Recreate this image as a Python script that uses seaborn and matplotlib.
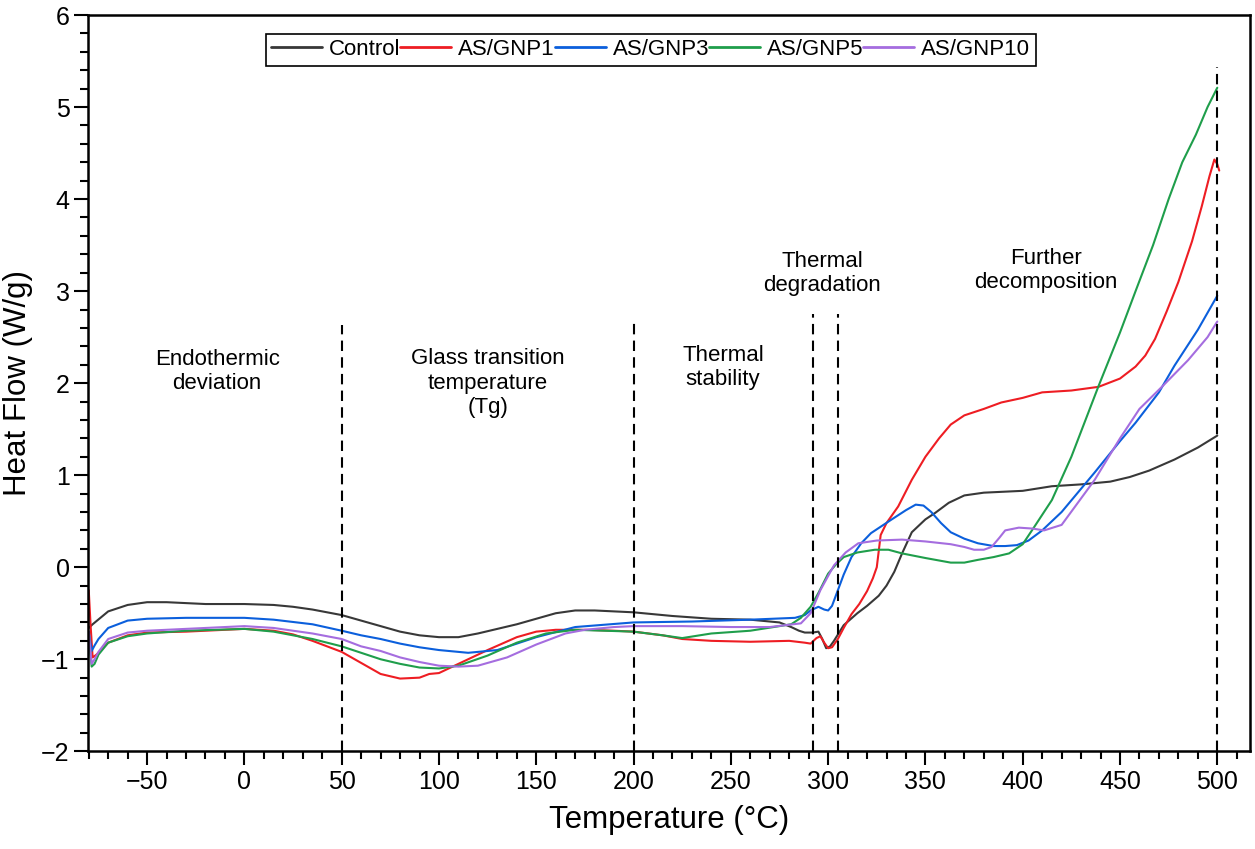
from matplotlib import pyplot as plt
from matplotlib.ticker import MultipleLocator
import pandas as pd
import numpy as np
import seaborn as sns

# DSC curves
control_x = [-80, -78, -70, -60, -50, -40, -20, 0, 15, 25, 35, 50, 60, 70, 80, 90, 100, 110, 120, 140, 160,
             170, 180, 200, 220, 240, 260, 275, 281, 285, 288, 292, 295, 297, 299, 301, 303, 308, 315, 320,
             326, 330, 334, 338, 343, 350, 355, 362, 370, 380, 390, 400, 415, 430, 445, 455, 465, 478, 490, 500]
control_y = [-0.66, -0.62, -0.48, -0.41, -0.38, -0.38, -0.40, -0.40, -0.41, -0.43, -0.46, -0.52, -0.58, -0.64,
             -0.70, -0.74, -0.76, -0.76, -0.72, -0.62, -0.50, -0.47, -0.47, -0.49, -0.53, -0.56, -0.57, -0.60,
             -0.65, -0.69, -0.71, -0.71, -0.70, -0.78, -0.88, -0.86, -0.80, -0.63, -0.50, -0.42, -0.31, -0.20,
             -0.05, 0.15, 0.38, 0.52, 0.59, 0.70, 0.78, 0.81, 0.82, 0.83, 0.88, 0.90, 0.93, 0.98, 1.05, 1.17,
             1.30, 1.43]

gnp1_x = [-80, -79, -78, -76, -70, -60, -50, -30, 0, 15, 25, 35, 50, 60, 70, 80, 90, 95, 100, 110, 125, 140,
          150, 160, 175, 190, 200, 215, 225, 240, 260, 280, 288, 291, 294, 296, 298, 300, 302, 305, 308, 312,
          316, 320, 323, 325, 327, 330, 336, 343, 350, 357, 363, 370, 380, 389, 400, 410, 425, 439, 450, 458,
          463, 468, 474, 480, 487, 492, 496, 498.5, 500, 501]
gnp1_y = [-0.25, -0.65, -0.98, -0.95, -0.82, -0.74, -0.71, -0.70, -0.67, -0.69, -0.73, -0.80, -0.92, -1.04,
          -1.16, -1.21, -1.20, -1.16, -1.15, -1.05, -0.90, -0.76, -0.70, -0.68, -0.68, -0.69, -0.70, -0.74,
          -0.78, -0.80, -0.81, -0.80, -0.82, -0.83, -0.77, -0.75, -0.82, -0.88, -0.87, -0.78, -0.66, -0.51,
          -0.40, -0.26, -0.12, 0.0, 0.35, 0.48, 0.66, 0.95, 1.20, 1.40, 1.55, 1.65, 1.72, 1.79, 1.84, 1.90,
          1.92, 1.96, 2.05, 2.18, 2.30, 2.48, 2.78, 3.10, 3.54, 3.92, 4.25, 4.43, 4.38, 4.31]

gnp3_x = [-80, -78.5, -77, -75, -70, -60, -50, -30, 0, 15, 35, 50, 60, 70, 80, 90, 100, 115, 130, 150, 170,
          200, 230, 260, 283, 288, 291, 295, 298, 300, 302, 305, 308, 312, 317, 322, 332, 340, 345, 349, 353,
          358, 363, 370, 377, 385, 391, 397, 403, 410, 420, 437, 450, 458, 470, 478, 490, 500]
gnp3_y = [-0.70, -0.91, -0.85, -0.78, -0.66, -0.58, -0.56, -0.55, -0.55, -0.57, -0.62, -0.69, -0.74, -0.78,
          -0.83, -0.87, -0.90, -0.93, -0.90, -0.76, -0.65, -0.60, -0.59, -0.57, -0.55, -0.52, -0.47, -0.43,
          -0.46, -0.47, -0.42, -0.25, -0.08, 0.11, 0.26, 0.37, 0.51, 0.62, 0.68, 0.67, 0.60, 0.48, 0.38, 0.31,
          0.26, 0.23, 0.23, 0.24, 0.29, 0.40, 0.60, 1.03, 1.37, 1.57, 1.90, 2.19, 2.58, 2.95]

gnp5_x = [-80, -78.5, -77, -75, -70, -60, -50, -30, 0, 15, 35, 50, 60, 70, 80, 90, 100, 110, 125, 140, 155,
          170, 185, 200, 215, 225, 240, 260, 281, 286, 291, 295, 300, 304, 308, 315, 324, 331, 338, 350, 363,
          370, 377, 385, 393, 400, 406, 415, 425, 439, 450, 458, 467, 475, 482, 489, 495, 500]
gnp5_y = [-0.72, -1.08, -1.05, -0.95, -0.82, -0.75, -0.72, -0.69, -0.67, -0.70, -0.78, -0.86, -0.93, -1.00,
          -1.05, -1.09, -1.10, -1.07, -0.96, -0.82, -0.72, -0.68, -0.69, -0.70, -0.74, -0.77, -0.72, -0.69,
          -0.62, -0.55, -0.43, -0.28, -0.07, 0.03, 0.11, 0.16, 0.19, 0.19, 0.15, 0.10, 0.05, 0.05, 0.08, 0.11,
          0.15, 0.25, 0.44, 0.73, 1.20, 1.97, 2.55, 3.00, 3.50, 4.00, 4.40, 4.70, 5.00, 5.21]

gnp10_x = [-80, -78.5, -77, -75, -70, -60, -50, -30, 0, 15, 35, 50, 60, 70, 80, 90, 100, 110, 120, 135, 150,
           165, 175, 190, 200, 225, 250, 270, 286, 291, 296, 303, 309, 315.5, 325, 338, 350, 363, 370, 375, 380,
           384, 388, 391, 398, 405, 411, 420, 437, 450, 460, 472, 485, 495, 500]
gnp10_y = [-0.70, -1.05, -1.00, -0.92, -0.78, -0.71, -0.69, -0.67, -0.64, -0.66, -0.72, -0.78, -0.86, -0.91,
           -0.98, -1.03, -1.07, -1.08, -1.07, -0.98, -0.84, -0.72, -0.68, -0.65, -0.64, -0.64, -0.65, -0.65,
           -0.61, -0.50, -0.25, 0.02, 0.16, 0.26, 0.29, 0.30, 0.28, 0.25, 0.22, 0.19, 0.19, 0.22, 0.32, 0.40,
           0.43, 0.42, 0.40, 0.46, 0.95, 1.40, 1.72, 1.97, 2.25, 2.50, 2.67]

labels = ['Control', 'AS/GNP1', 'AS/GNP3', 'AS/GNP5', 'AS/GNP10']
colors = ['#383838', '#ee1d23', '#0b5fdc', '#1f9e4b', '#a56ddf']

# region boundaries (x) and how high each dashed line reaches
bound_x = [50, 200, 292, 305, 500]
bound_top = [2.63, 2.71, 2.75, 2.75, 5.44]

regions = ['Endothermic\ndeviation', 'Glass transition\ntemperature\n(Tg)', 'Thermal\nstability',
           'Thermal\ndegradation', 'Further\ndecomposition']
region_x = [-14, 125, 246, 297, 412]
region_y = [2.13, 2.0, 2.17, 3.19, 3.22]

if __name__ == "__main__":
    sns.set_style('ticks')
    plt.rcParams['font.family'] = ['Liberation Sans', 'DejaVu Sans']
    plt.rcParams['text.color'] = 'black'
    plt.rcParams['axes.labelcolor'] = 'black'
    plt.rcParams['xtick.color'] = 'black'
    plt.rcParams['ytick.color'] = 'black'

    series = [(control_x, control_y), (gnp1_x, gnp1_y), (gnp3_x, gnp3_y), (gnp5_x, gnp5_y), (gnp10_x, gnp10_y)]
    frames = []
    for name, (xs, ys) in zip(labels, series):
        frames.append(pd.DataFrame({'T': xs, 'HF': ys, 'sample': name}))
    df = pd.concat(frames, ignore_index=True)

    fig = plt.figure(figsize=(12.55, 8.49), dpi=100)
    ax = fig.add_axes([0.0704, 0.1151, 0.9256, 0.8672])

    sns.lineplot(data=df, x='T', y='HF', hue='sample', palette=dict(zip(labels, colors)),
                 estimator=None, sort=False, linewidth=1.5, ax=ax)

    ax.vlines(bound_x, -2, bound_top, colors='black', linestyles=(0, (5, 3)), linewidth=1.5)

    for txt, tx, ty in zip(regions, region_x, region_y):
        ax.text(tx, ty, txt, ha='center', va='center', fontsize=16, linespacing=1.2, color='black')

    ax.set_xlim(-80.2, 516.8)
    ax.set_ylim(-2, 6)
    ax.xaxis.set_major_locator(MultipleLocator(50))
    ax.xaxis.set_minor_locator(MultipleLocator(10))
    ax.yaxis.set_major_locator(MultipleLocator(1))
    ax.yaxis.set_minor_locator(MultipleLocator(0.2))
    ax.tick_params(which='major', direction='out', length=10, width=1.5, labelsize=18, colors='black')
    ax.tick_params(which='minor', direction='out', length=6, width=1.5, colors='black')
    for s in ax.spines.values():
        s.set_linewidth(1.8)
        s.set_color('black')

    ax.set_xlabel('Temperature (°C)', fontsize=22.5, labelpad=8, color='black')
    ax.set_ylabel('Heat Flow (W/g)', fontsize=22.5, labelpad=6, color='black')

    leg = ax.legend(loc='upper center', bbox_to_anchor=(0.484, 0.99), ncol=5, fontsize=16,
                    handlelength=2.3, handletextpad=0.3, columnspacing=0.0, borderpad=0.25,
                    fancybox=False, edgecolor='black', framealpha=1)
    leg.get_frame().set_linewidth(1.2)
    for t in leg.get_texts():
        t.set_color('black')
    for h in leg.get_lines():
        h.set_linewidth(2)

    plt.savefig('out.png', dpi=100)
